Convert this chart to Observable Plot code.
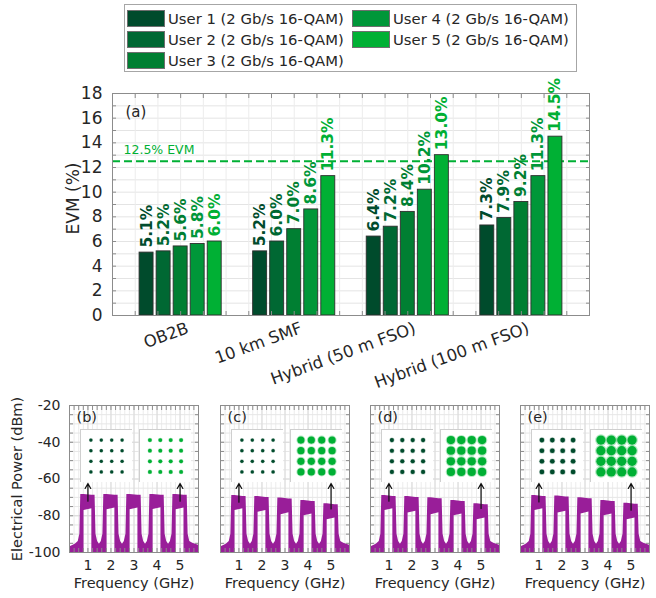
<!DOCTYPE html>
<html>
<head>
<meta charset="utf-8">
<script src="https://cdn.jsdelivr.net/npm/d3@7"></script>
<script src="https://cdn.jsdelivr.net/npm/@observablehq/plot@0.6"></script>
<style>
  body { margin: 0; background: #fff; }
  #fig { position: relative; width: 656px; height: 598px; overflow: hidden;
         font-family: "DejaVu Sans", sans-serif; color: #262626; background: #fff; }
  #fig > * { position: absolute; }
  .legend { box-sizing: border-box; border: 1px solid #a6a6a6; background: #fff; z-index: 3; }
  .legend .item { position: absolute; display: flex; align-items: center; height: 19px; }
  .legend .sw { width: 38px; height: 17px; box-sizing: border-box; border: 1px solid #6f6f6f; }
  .legend .lab { margin-left: 3px; font-size: 14.8px; white-space: nowrap; }
  .inset { z-index: 2; }
</style>
</head>
<body>
<div id="fig"></div>
<script>
// ---- EVM per link configuration and user ----
const conditions = ["OB2B", "10 km SMF", "Hybrid (50 m FSO)", "Hybrid (100 m FSO)"];
const userNames = [
  "User 1 (2 Gb/s 16-QAM)", "User 2 (2 Gb/s 16-QAM)", "User 3 (2 Gb/s 16-QAM)",
  "User 4 (2 Gb/s 16-QAM)", "User 5 (2 Gb/s 16-QAM)"
];
const userColors = ["#004b2c", "#006833", "#007f32", "#009739", "#00b034"];
const evmUser1 = [5.1, 5.2, 6.4, 7.3];
const evmUser2 = [5.2, 6.0, 7.2, 7.9];
const evmUser3 = [5.6, 7.0, 8.4, 9.2];
const evmUser4 = [5.8, 8.6, 10.2, 11.3];
const evmUser5 = [6.0, 11.3, 13.0, 14.5];
const evmLimit = 12.5;
const evmTicks = [0, 2, 4, 6, 8, 10, 12, 14, 16, 18];

// ---- electrical spectra, one panel per link configuration ----
const panelLetters = ["(b)", "(c)", "(d)", "(e)"];
const subcarrierGHz = [1, 2, 3, 4, 5];
const bandTopDbm = [
  [-68.4, -68.4, -68.4, -68.4, -68.4],
  [-69.0, -69.5, -70.4, -71.7, -73.5],
  [-69.0, -69.5, -70.2, -71.7, -73.5],
  [-69.0, -69.3, -70.2, -71.7, -73.2]
];
const bandLowDbm = [
  [-76.2, -75.8, -75.8, -75.6, -75.8],
  [-76.2, -77.1, -78.4, -79.0, -81.2],
  [-76.2, -77.5, -78.4, -79.0, -81.2],
  [-76.2, -77.5, -78.0, -79.0, -81.2]
];
const bandHalfWidthGHz = 0.31;
const bandInnerHalfWidthGHz = 0.17;
const noiseFloorDbm = -95.5;
const skirtDbm = [-90, -94];
const powerTicks = [-100, -80, -60, -40, -20];
const freqTicks = [1, 2, 3, 4, 5];
const arrowFromUser1 = [-72.1, -72.6, -72.1, -72.5];
const arrowFromUser5 = [-72.1, -76.3, -76.0, -77.0];
const insetBottomDbm = -62.5;

// ---- 16-QAM constellations of user 1 and user 5 ----
const qamLevels = [-3, -1, 1, 3];
const evmByUser = [evmUser1, evmUser2, evmUser3, evmUser4, evmUser5];

const fig = document.getElementById("fig");
const font = "DejaVu Sans";
const ink = "#262626";
const frameInk = "#8c8c8c";
const purple = "#991e99";
const plain = d => String(d);
const blank = () => "";

// short inward tick marks along the four sides of a frame
function innerTicks(xs, ys) {
  const o = {tickSize: -4, tickFormat: blank, stroke: frameInk, label: null};
  return [
    Plot.axisX({...o, anchor: "bottom", ticks: xs}),
    Plot.axisX({...o, anchor: "top", ticks: xs}),
    Plot.axisY({...o, anchor: "left", ticks: ys}),
    Plot.axisY({...o, anchor: "right", ticks: ys})
  ];
}

// ---------- legend ----------
const legend = document.createElement("div");
legend.className = "legend";
Object.assign(legend.style, {left: "124px", top: "4px", width: "453px", height: "68px"});
userNames.forEach((name, i) => {
  const col = i < 3 ? 0 : 1, row = i < 3 ? i : i - 3;
  const item = document.createElement("div");
  item.className = "item";
  item.style.left = (col ? 227 : 2) + "px";
  item.style.top = (4.3 + row * 20.7) + "px";
  const sw = document.createElement("div");
  sw.className = "sw";
  sw.style.background = userColors[i];
  const lab = document.createElement("span");
  lab.className = "lab";
  lab.textContent = name;
  item.append(sw, lab);
  legend.append(item);
});
fig.append(legend);

// ---------- panel (a): grouped EVM bars ----------
const evmRows = conditions.flatMap((c, ci) =>
  evmByUser.map((vals, ui) => ({cond: c, ci, ui, user: userNames[ui], evm: vals[ci]})));
const pitch = 0.15, barW = 0.123;
const barX = d => d.ci + 1 + (d.ui - 2) * pitch;

const chartA = Plot.plot({
  width: 656, height: 320,
  marginLeft: 112, marginRight: 67, marginTop: 18, marginBottom: 80,
  x: {domain: [0.4, 4.6], axis: null},
  y: {domain: [0, 18], axis: null},
  color: {domain: userNames, range: userColors},
  style: {fontFamily: font, fontSize: "16px", color: ink, background: "transparent", overflow: "visible"},
  marks: [
    Plot.gridY(d3.range(0, 18.01, 1), {stroke: "#e4e4e4", strokeOpacity: 1}),
    Plot.gridX(d3.range(0.4, 4.601, 0.2), {stroke: "#ececec", strokeOpacity: 1}),
    Plot.ruleY([evmLimit], {stroke: userColors[4], strokeWidth: 2, strokeDasharray: "8,4"}),
    Plot.rectY(evmRows, {
      x1: d => barX(d) - barW / 2, x2: d => barX(d) + barW / 2,
      y1: 0, y2: "evm", fill: "user", stroke: "#2e2e2e", strokeWidth: 0.9
    }),
    Plot.text(evmRows, {
      x: barX, y: "evm", text: d => d.evm.toFixed(1) + "%",
      rotate: -90, textAnchor: "start", lineAnchor: "middle", dy: -5,
      fill: "user", fontWeight: "bold", fontSize: 15.5
    }),
    Plot.text([evmLimit], {
      y: d => d, text: d => `${d}% EVM`, frameAnchor: "left",
      textAnchor: "start", dx: 11, dy: -11, fill: userColors[4], fontSize: 12.5
    }),
    Plot.text(["(a)"], {frameAnchor: "top-left", textAnchor: "start", lineAnchor: "middle", dx: 13, dy: 19, fontSize: 15}),
    ...innerTicks(d3.range(0.4, 4.601, 0.2), d3.range(0, 18.01, 1)),
    Plot.frame({stroke: frameInk}),
    Plot.axisY({ticks: evmTicks, tickFormat: plain, tickSize: 0, tickPadding: 10, fontSize: 17, label: null}),
    Plot.text(conditions, {
      x: (d, i) => i + 1, y: 0, rotate: -20, textAnchor: "end", lineAnchor: "top",
      dx: 5, dy: 6, fontSize: 16.5
    }),
    Plot.text(["EVM (%)"], {frameAnchor: "left", textAnchor: "middle", lineAnchor: "middle", rotate: -90, dx: -39, dy: -6, fontSize: 17})
  ]
});
chartA.style.left = "0px";
chartA.style.top = "75px";
fig.append(chartA);

// ---------- panels (b)-(e): spectra ----------
function envelope(tops, lows) {
  const v = [{f: 0.2, lo: -100, hi: -97}, {f: 0.45, lo: -100, hi: noiseFloorDbm}];
  subcarrierGHz.forEach((c, k) => {
    const T = tops[k], S = lows[k];
    const o = bandHalfWidthGHz, n = bandInnerHalfWidthGHz;
    v.push(
      {f: c - 0.42, lo: -100, hi: skirtDbm[1]},
      {f: c - 0.35, lo: -100, hi: skirtDbm[0]},
      {f: c - o, lo: -100, hi: T},
      {f: c - n, lo: -100, hi: T},
      {f: c - n, lo: S - 1, hi: T},
      {f: c + n, lo: S, hi: T - 0.5},
      {f: c + n, lo: -100, hi: T - 0.5},
      {f: c + o, lo: -100, hi: T - 0.5},
      {f: c + 0.35, lo: -100, hi: skirtDbm[0]},
      {f: c + 0.42, lo: -100, hi: skirtDbm[1]}
    );
    if (k < subcarrierGHz.length - 1) v.push({f: c + 0.5, lo: -100, hi: noiseFloorDbm});
  });
  v.push({f: 5.55, lo: -100, hi: -95}, {f: 5.8, lo: -100, hi: -96});
  return v;
}

const panelLeft = [69, 220, 370, 520];
const frameW = 129;
const constellation = qamLevels.flatMap(i => qamLevels.map(q => ({i, q})));

panelLetters.forEach((letter, p) => {
  const first = p === 0;
  const ml = first ? 69 : 14;
  const chart = Plot.plot({
    width: ml + frameW + 2, height: 203,
    marginLeft: ml, marginRight: 2, marginTop: 10, marginBottom: 46,
    x: {domain: [0.2, 5.8], axis: null},
    y: {domain: [-100, -20], axis: null},
    style: {fontFamily: font, fontSize: "14px", color: ink, background: "transparent", overflow: "visible"},
    marks: [
      Plot.gridX(d3.range(0.2, 5.801, 0.2), {stroke: "#ececec", strokeOpacity: 1}),
      Plot.gridY(d3.range(-100, -19, 5), {stroke: "#e6e6e6", strokeOpacity: 1}),
      Plot.gridX(freqTicks, {stroke: "#dadada", strokeOpacity: 1}),
      Plot.gridY(powerTicks, {stroke: "#dadada", strokeOpacity: 1}),
      Plot.areaY(envelope(bandTopDbm[p], bandLowDbm[p]), {x: "f", y1: "lo", y2: "hi", fill: purple, curve: "linear"}),
      Plot.arrow([
        {f: subcarrierGHz[0], from: arrowFromUser1[p], to: insetBottomDbm},
        {f: subcarrierGHz[4], from: arrowFromUser5[p], to: insetBottomDbm}
      ], {x1: "f", x2: "f", y1: "from", y2: "to", stroke: "#111", strokeWidth: 1.2, headLength: 7}),
      ...innerTicks(d3.range(0.2, 5.801, 0.2), d3.range(-100, -19, 5)),
      Plot.frame({stroke: frameInk}),
      Plot.text([letter], {frameAnchor: "top-left", textAnchor: "start", lineAnchor: "middle", dx: 7, dy: 11.5, fontSize: 14.5}),
      Plot.axisX({ticks: freqTicks, tickFormat: plain, tickSize: 0, tickPadding: 8, fontSize: 14, label: null}),
      Plot.text(["Frequency (GHz)"], {frameAnchor: "bottom", dy: 35, fontSize: 14.5}),
      ...(first ? [
        Plot.axisY({ticks: powerTicks, tickFormat: plain, tickSize: 0, tickPadding: 9, fontSize: 14, label: null}),
        Plot.text(["Electrical Power (dBm)"], {frameAnchor: "left", textAnchor: "middle", lineAnchor: "middle", rotate: -90, dx: -52, fontSize: 14.5})
      ] : [])
    ]
  });
  chart.style.left = (panelLeft[p] - ml) + "px";
  chart.style.top = "395px";
  fig.append(chart);

  // constellation insets for user 1 (left) and user 5 (right)
  [[0, 11], [4, 70]].forEach(([ui, off]) => {
    const evm = evmByUser[ui][p];
    const inset = Plot.plot({
      width: 52, height: 53, margin: 0,
      x: {domain: [-5, 5], axis: null},
      y: {domain: [-5, 5], axis: null},
      r: {type: "linear", domain: [0, 15], range: [0, 5]},
      style: {background: "white"},
      marks: [
        Plot.frame({stroke: "#cfcfcf", fill: "white"}),
        Plot.dot(constellation, {x: "i", y: "q", r: () => evm * 1.2, fill: userColors[ui], fillOpacity: 0.3}),
        Plot.dot(constellation, {x: "i", y: "q", r: () => evm * 0.95, fill: userColors[ui]})
      ]
    });
    inset.classList.add("inset");
    inset.style.left = (panelLeft[p] + off) + "px";
    inset.style.top = "429px";
    fig.append(inset);
  });
});
</script>
</body>
</html>
